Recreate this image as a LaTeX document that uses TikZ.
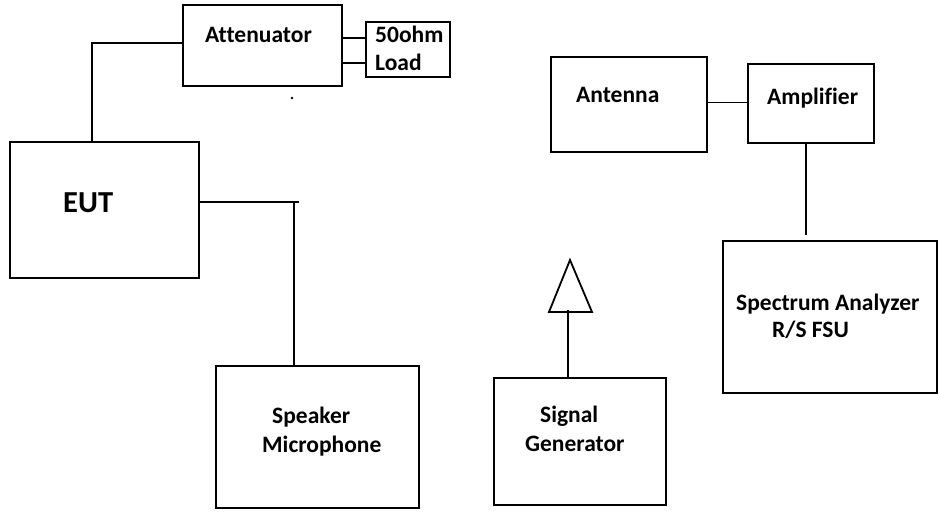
\documentclass[tikz,border=0pt]{standalone}
\usepackage{fontspec}
\setmainfont{Carlito}[Ligatures=NoCommon]
\begin{document}
\begin{tikzpicture}[x=1pt,y=-1pt,
  box/.style={draw, line width=1.8pt, inner sep=0pt, outer sep=0pt},
  lbl/.style={anchor=base west, inner sep=0pt, font=\fontsize{23.5}{28}\selectfont\bfseries},
  wire/.style={line width=1.8pt}]
\useasboundingbox (0,0) rectangle (940,518);
% boxes
\node[box, minimum width=159pt, minimum height=81pt] (att) at (262.5,45.5) {};
\node[box, minimum width=84pt, minimum height=55pt] (load) at (408,49.5) {};
\node[box, minimum width=189pt, minimum height=136pt] (eut) at (104.5,210) {};
\node[box, minimum width=203pt, minimum height=142pt] (spk) at (317.5,437) {};
\node[box, minimum width=156pt, minimum height=95pt] (ant) at (629,104.5) {};
\node[box, minimum width=126pt, minimum height=79pt] (amp) at (811,103.5) {};
\node[box, minimum width=214pt, minimum height=152pt] (spec) at (830,317) {};
\node[box, minimum width=172pt, minimum height=127pt] (sig) at (580,441.5) {};
% labels
\node[lbl] (tatt) at (205,43) {Attenuator};
\node[lbl] (tload1) at (375,43) {50ohm};
\node[lbl] (tload2) at (375,71) {Load};
\node[lbl, font=\fontsize{30.5}{36}\selectfont\bfseries] (teut) at (63,213) {EUT};
\node[lbl] (tant) at (576,103) {Antenna};
\node[lbl] (tamp) at (767,105) {Amplifier};
\node[lbl] (tspec1) at (736,311) {Spectrum Analyzer};
\node[lbl] (tspec2) at (772,338) {R/S FSU};
\node[lbl] (tsig1) at (540,423) {Signal};
\node[lbl] (tsig2) at (525,452) {Generator};
\node[lbl] (tspk1) at (272,424) {Speaker};
\node[lbl] (tspk2) at (262,453) {Microphone};
% connectors
\draw[wire] ([yshift=2.5pt]att.west) -| ([xshift=-12.5pt]eut.north);
\draw[wire] ([yshift=7.5pt]att.east) -- ([yshift=7.5pt]att.east -| load.west);
\draw[wire] ([yshift=-17.5pt]att.east) -- ([yshift=-17.5pt]att.east -| load.west);
\coordinate (ej) at (294,202);
\draw[wire] (eut.east |- ej) -- ([xshift=5pt]ej);
\draw[wire] (ej) -- (ej |- spk.north);
\draw[wire] ([yshift=2pt]ant.east) -- ([yshift=2pt]ant.east -| amp.west);
\draw[wire, shorten >=6pt] ([xshift=-5pt]amp.south) -- ([xshift=-5pt]amp.south |- spec.north);
% antenna symbol of signal generator
\coordinate (tapex) at (570,260);
\coordinate (tleft) at (549,312);
\coordinate (tright) at (592,312);
\coordinate (tbase) at (568,310);
\draw[wire, line join=miter] (tleft) -- (tapex) -- (tright) -- cycle;
\draw[wire] (tbase) -- (tbase |- sig.north);
% small dot
\fill (292,98) circle (1.3pt);
\end{tikzpicture}
\end{document}
